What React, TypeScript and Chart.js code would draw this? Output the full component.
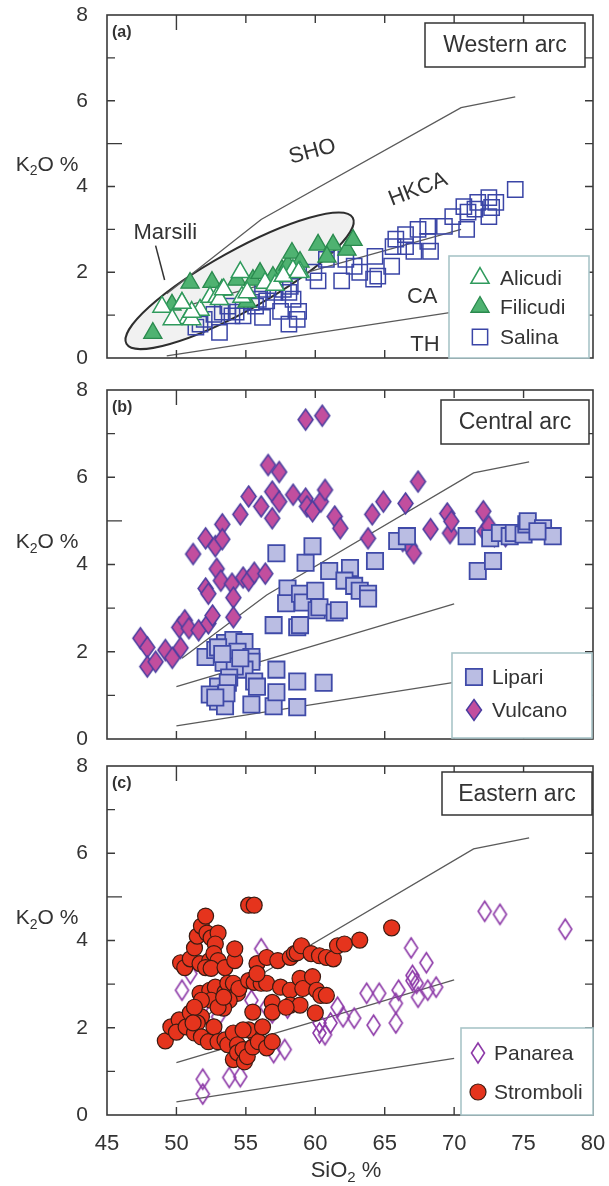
import React, { useEffect, useRef } from "react";
import { Chart, registerables } from "chart.js";
Chart.register(...registerables);

const FONT = '"Liberation Sans", Arial, Helvetica, sans-serif';
const TEXT = "#333333";
const LINE = "#5a5a5a";

// ---------- axes ----------
const X_MIN = 45, X_MAX = 80, Y_MIN = 0, Y_MAX = 8;
const X_TICK_LABELS = ["45", "50", "55", "60", "65", "70", "75", "80"];
const Y_TICK_LABELS = ["0", "2", "4", "6", "8"];
const X_INNER_TICKS = [50, 55, 60, 65, 70, 75];
const Y_INNER_TICKS = [1, 2, 3, 4, 5, 6, 7];

// ---------- classification boundaries ----------
const westThCaSiO2 = [49.3, 70.5];
const westThCaK2O = [0.05, 1.1];
const westCaHkcaSiO2 = [50.0, 70.5];
const westCaHkcaK2O = [1.15, 3.0];
const westHkcaShoSiO2 = [49.3, 56.1, 70.5, 74.4];
const westHkcaShoK2O = [1.5, 3.23, 5.84, 6.09];

const thCaSiO2 = [50.0, 70.0];
const thCaK2O = [0.3, 1.3];
const caHkcaSiO2 = [50.0, 70.0];
const caHkcaK2O = [1.2, 3.1];
const hkcaShoSiO2 = [50.4, 56.5, 71.4, 75.4];
const hkcaShoK2O = [1.85, 3.3, 6.1, 6.35];

// ---------- (a) Western arc ----------
const alicudiSiO2 = [48.96, 51.7, 50.83, 52.42, 52.92, 54.72, 56.38, 57.1, 58.39, 58.9, 49.7, 51.1, 51.1, 53.1, 55.1, 54.6, 57.7, 58.8, 53.4, 50.4];
const alicudiK2O = [1.19, 1.12, 0.93, 1.42, 1.42, 1.42, 1.75, 1.7, 2.05, 2.01, 0.9, 0.9, 1.07, 1.37, 1.53, 2.0, 1.91, 2.0, 1.6, 1.28];

const filicudiSiO2 = [48.3, 50.98, 52.56, 54.36, 55.51, 56.02, 57.6, 58.03, 58.32, 58.9, 60.2, 61.28, 60.84, 62.28, 62.72, 49.68, 53.28, 56.95, 50.4, 55.08];
const filicudiK2O = [0.58, 1.75, 1.77, 1.82, 1.82, 1.98, 2.05, 2.17, 2.45, 2.24, 2.64, 2.64, 2.36, 2.52, 2.75, 1.24, 1.59, 1.89, 1.28, 1.31];

const salinaSiO2 = [51.4, 52.0, 52.7, 53.1, 53.3, 53.7, 54.0, 54.8, 55.7, 56.2, 55.9, 56.5, 57.5, 58.1, 58.7, 58.8, 58.1, 58.2, 58.4, 59.9, 60.2, 60.8, 61.9, 62.8, 62.2, 63.2, 64.3, 64.2, 64.5, 65.5, 65.6, 65.8, 66.5, 66.5, 67.1, 67.4, 68.1, 68.1, 68.3, 69.3, 69.9, 70.7, 70.9, 71.0, 71.5, 71.7, 72.5, 72.7, 72.5, 73.0, 74.4, 57.1, 57.7, 56.2, 55.4, 54.3, 51.7];
const salinaK2O = [0.72, 0.9, 1.02, 0.6, 1.07, 1.21, 0.98, 0.98, 1.21, 0.95, 1.37, 1.33, 1.09, 0.79, 0.9, 1.09, 1.53, 1.67, 1.37, 2.0, 1.8, 2.3, 1.8, 2.14, 2.3, 2.0, 2.37, 1.84, 1.91, 2.14, 2.6, 2.77, 2.88, 2.6, 2.49, 3.0, 3.07, 2.72, 2.49, 3.07, 3.3, 3.53, 3.0, 3.4, 3.47, 3.63, 3.74, 3.51, 3.3, 3.63, 3.93, 1.53, 1.6, 1.6, 1.3, 1.07, 0.79];

// ---------- (b) Central arc ----------
const vulcanoSiO2 = [47.4, 47.9, 47.9, 48.5, 49.2, 49.7, 50.3, 50.2, 50.6, 50.9, 51.2, 51.6, 52.1, 52.3, 52.3, 52.6, 52.1, 52.8, 52.9, 53.3, 53.3, 53.2, 54.0, 54.1, 54.1, 54.6, 54.8, 55.2, 55.2, 55.6, 56.1, 56.4, 56.6, 56.9, 56.9, 57.4, 57.4, 58.4, 59.3, 59.3, 59.4, 59.8, 60.4, 60.5, 60.7, 61.4, 61.8, 63.8, 64.1, 64.9, 66.3, 66.5, 66.8, 67.1, 67.4, 68.3, 69.5, 69.7, 69.8, 72.1, 72.2, 72.5, 72.9, 73.7];
const vulcanoK2O = [2.31, 2.1, 1.66, 1.77, 2.04, 1.86, 2.09, 2.56, 2.72, 2.54, 4.24, 2.49, 3.45, 3.33, 2.65, 2.83, 4.6, 4.42, 3.9, 4.92, 4.58, 3.63, 3.56, 3.24, 2.79, 5.15, 3.7, 5.56, 3.63, 3.81, 5.33, 3.79, 6.28, 5.06, 5.67, 6.12, 5.44, 5.6, 7.32, 5.51, 5.33, 5.22, 5.44, 7.41, 5.71, 5.1, 4.83, 4.6, 5.15, 5.44, 4.54, 5.4, 4.42, 4.26, 5.9, 4.81, 5.17, 4.72, 4.99, 5.22, 4.76, 4.88, 4.65, 4.65];

const lipariSiO2 = [57.2, 59.3, 59.8, 61.0, 62.5, 64.3, 62.1, 62.8, 63.2, 63.8, 63.8, 58.0, 57.9, 58.9, 59.1, 60.0, 60.1, 60.3, 61.4, 61.7, 57.0, 58.7, 58.9, 52.1, 52.8, 53.5, 54.1, 54.9, 53.4, 54.4, 55.4, 55.4, 54.9, 54.2, 53.8, 53.0, 53.7, 52.4, 53.0, 53.5, 55.6, 55.8, 55.4, 57.0, 57.2, 57.2, 58.7, 58.7, 60.6, 70.9, 71.7, 72.8, 72.6, 73.3, 74.0, 74.3, 75.0, 75.2, 75.3, 76.4, 77.1, 76.0, 65.9, 66.6, 53.0, 53.3, 54.6, 53.6, 52.8];
const lipariK2O = [4.26, 4.04, 4.42, 3.85, 3.92, 4.08, 3.63, 3.51, 3.4, 3.33, 3.22, 3.45, 3.11, 3.33, 3.13, 3.4, 2.95, 3.02, 2.9, 2.95, 2.61, 2.56, 2.61, 1.88, 2.04, 2.2, 2.27, 2.22, 1.75, 2.0, 1.88, 1.77, 1.59, 1.66, 1.41, 1.2, 1.29, 1.02, 0.86, 0.75, 1.32, 1.2, 0.79, 0.75, 1.59, 1.07, 1.32, 0.73, 1.29, 4.65, 3.85, 4.08, 4.6, 4.72, 4.65, 4.72, 4.69, 4.92, 4.99, 4.83, 4.65, 4.76, 4.54, 4.65, 2.1, 1.95, 1.85, 1.05, 0.95];

// ---------- (c) Eastern arc ----------
const panareaSiO2 = [50.4, 51.0, 51.8, 51.9, 51.9, 53.8, 54.6, 52.8, 53.0, 55.4, 56.1, 56.5, 56.9, 57.0, 57.8, 58.0, 60.3, 60.3, 60.7, 61.1, 61.6, 62.0, 62.8, 63.7, 64.2, 64.6, 65.8, 65.8, 66.0, 66.9, 67.0, 67.0, 67.3, 67.4, 68.0, 68.1, 68.7, 72.2, 73.3, 78.0];
const panareaK2O = [2.86, 3.24, 2.45, 0.82, 0.48, 0.86, 0.88, 1.88, 2.25, 2.63, 3.81, 2.47, 2.34, 1.43, 1.5, 2.45, 2.11, 1.88, 1.84, 2.11, 2.47, 2.25, 2.22, 2.79, 2.06, 2.79, 2.56, 2.11, 2.86, 3.83, 3.2, 3.08, 3.02, 2.7, 3.49, 2.86, 2.93, 4.67, 4.6, 4.26];

const stromboliSiO2 = [49.2, 49.6, 50.2, 50.0, 50.7, 51.3, 51.0, 50.3, 50.6, 51.0, 51.3, 51.5, 51.8, 52.1, 52.2, 52.5, 53.0, 52.8, 51.7, 52.4, 52.7, 53.0, 52.1, 52.5, 51.7, 52.4, 52.8, 52.5, 53.5, 53.5, 53.7, 54.1, 54.2, 54.2, 54.4, 54.5, 53.8, 53.4, 51.8, 51.5, 51.8, 52.3, 52.7, 53.0, 53.5, 53.7, 54.1, 54.4, 54.1, 54.4, 54.8, 54.9, 55.1, 55.5, 55.7, 55.2, 54.8, 55.9, 56.2, 56.5, 56.9, 55.5, 55.2, 55.6, 56.1, 56.5, 55.8, 55.8, 56.5, 57.3, 55.2, 55.6, 57.5, 58.2, 58.2, 58.9, 58.9, 59.1, 59.8, 60.1, 60.4, 60.8, 60.0, 56.9, 56.9, 57.9, 58.2, 58.5, 58.7, 59.0, 59.7, 60.3, 60.8, 61.3, 61.6, 62.1, 63.2, 65.5, 51.8, 51.3, 51.2, 53.0, 53.4];
const stromboliK2O = [1.7, 2.02, 2.18, 1.9, 2.02, 1.88, 2.34, 3.49, 3.38, 3.58, 3.83, 4.1, 4.33, 4.56, 4.17, 4.06, 4.17, 3.92, 3.47, 3.54, 3.7, 3.54, 3.38, 3.36, 2.79, 2.86, 2.93, 2.63, 3.38, 2.81, 3.02, 3.02, 3.54, 3.81, 2.79, 2.9, 2.63, 2.45, 2.25, 2.11, 1.79, 1.68, 2.02, 1.68, 1.72, 1.61, 1.88, 1.61, 1.27, 1.43, 1.5, 1.22, 1.34, 1.56, 1.84, 1.95, 1.95, 1.68, 2.02, 1.54, 1.68, 2.36, 3.08, 3.04, 3.02, 3.02, 3.47, 3.24, 3.61, 3.54, 4.81, 4.81, 2.93, 2.86, 2.52, 2.52, 3.13, 2.9, 3.17, 2.86, 2.74, 2.74, 2.34, 2.58, 2.36, 2.47, 3.61, 3.7, 3.72, 3.88, 3.7, 3.65, 3.61, 3.58, 3.88, 3.92, 4.01, 4.29, 2.63, 2.47, 2.11, 2.47, 2.7];

// ---------- markers ----------
type Marker = { shape: "rect" | "triangle" | "circle" | "diamond"; r: number; w?: number; h?: number; fill: string; stroke: string; lw: number };

const M_ALICUDI: Marker = { shape: "triangle", r: 10.5, fill: "#ffffff", stroke: "#2f9a5c", lw: 1.5 };
const M_FILICUDI: Marker = { shape: "triangle", r: 10.5, fill: "#4fb271", stroke: "#2a8a4e", lw: 1.3 };
const M_SALINA: Marker = { shape: "rect", r: 10.8, fill: "rgba(0,0,0,0)", stroke: "#3a45a6", lw: 1.5 };
const M_LIPARI: Marker = { shape: "rect", r: 11.5, fill: "#babde3", stroke: "#3f4aa8", lw: 1.8 };
const M_VULCANO: Marker = { shape: "diamond", r: 9, w: 15, h: 21, fill: "#c24e9e", stroke: "#4a3d9f", lw: 1.5 };
const M_PANAREA: Marker = { shape: "diamond", r: 9, w: 13, h: 20, fill: "rgba(0,0,0,0)", stroke: "#8d3aa8", lw: 1.6 };
const M_STROMBOLI: Marker = { shape: "circle", r: 8, fill: "#e5341d", stroke: "#3b1b12", lw: 1.2 };

function diamondCanvas(m: Marker): HTMLCanvasElement {
  const c = document.createElement("canvas");
  const w = m.w || 14, h = m.h || 20;
  const pad = Math.ceil(m.lw) + 1;
  c.width = w + pad * 2;
  c.height = h + pad * 2;
  const g = c.getContext("2d")!;
  const cx = c.width / 2, cy = c.height / 2;
  g.beginPath();
  g.moveTo(cx, cy - h / 2);
  g.lineTo(cx + w / 2, cy);
  g.lineTo(cx, cy + h / 2);
  g.lineTo(cx - w / 2, cy);
  g.closePath();
  g.fillStyle = m.fill;
  g.fill();
  g.strokeStyle = m.stroke;
  g.lineWidth = m.lw;
  g.stroke();
  return c;
}

function drawMarker(ctx: CanvasRenderingContext2D, m: Marker, x: number, y: number) {
  ctx.save();
  ctx.lineWidth = m.lw;
  ctx.strokeStyle = m.stroke;
  ctx.fillStyle = m.fill;
  ctx.beginPath();
  if (m.shape === "rect") {
    const s = m.r * Math.SQRT1_2;
    ctx.rect(x - s, y - s, 2 * s, 2 * s);
  } else if (m.shape === "circle") {
    ctx.arc(x, y, m.r, 0, Math.PI * 2);
  } else if (m.shape === "triangle") {
    for (let k = 0; k < 3; k++) {
      const a = (k * 2 * Math.PI) / 3;
      const px = x + Math.sin(a) * m.r, py = y - Math.cos(a) * m.r;
      if (k === 0) ctx.moveTo(px, py); else ctx.lineTo(px, py);
    }
    ctx.closePath();
  } else {
    const w = m.w || 14, h = m.h || 20;
    ctx.moveTo(x, y - h / 2);
    ctx.lineTo(x + w / 2, y);
    ctx.lineTo(x, y + h / 2);
    ctx.lineTo(x - w / 2, y);
    ctx.closePath();
  }
  ctx.fill();
  ctx.stroke();
  ctx.restore();
}

function pointSet(label: string, xs: number[], ys: number[], m: Marker, order: number) {
  return {
    label,
    data: xs.map((x, i) => ({ x, y: ys[i] })),
    pointStyle: m.shape === "diamond" ? diamondCanvas(m) : m.shape,
    pointRadius: m.r,
    pointBackgroundColor: m.fill,
    pointBorderColor: m.stroke,
    pointBorderWidth: m.lw,
    showLine: false,
    order,
  };
}

function lineSet(xs: number[], ys: number[]) {
  return {
    label: "",
    data: xs.map((x, i) => ({ x, y: ys[i] })),
    showLine: true,
    pointRadius: 0,
    borderColor: LINE,
    borderWidth: 1.3,
    fill: false,
    tension: 0,
    order: 20,
  };
}

type Seg = { t: string; sub?: boolean };
function drawRich(ctx: CanvasRenderingContext2D, parts: Seg[], cx: number, cy: number, size: number) {
  const subSize = Math.round(size * 0.66);
  let total = 0;
  const widths = parts.map((p) => {
    ctx.font = `${p.sub ? subSize : size}px ${FONT}`;
    const w = ctx.measureText(p.t).width;
    total += w;
    return w;
  });
  let x = cx - total / 2;
  ctx.textAlign = "left";
  ctx.textBaseline = "middle";
  ctx.fillStyle = TEXT;
  parts.forEach((p, i) => {
    ctx.font = `${p.sub ? subSize : size}px ${FONT}`;
    ctx.fillText(p.t, x, p.sub ? cy + size * 0.3 : cy);
    x += widths[i];
  });
}

type LegendRow = { label: string; marker: Marker; y: number };
type ZoneLabel = { text: string; x: number; y: number; rot: number };
type PanelCfg = {
  key: string;
  top: number;
  height: number;
  chartTop: number;
  chartBottom: number;
  tag: string;
  title: string;
  titleBox: [number, number, number, number];
  legendBox: [number, number, number, number];
  legendRows: LegendRow[];
  markerX: number;
  textX: number;
  showX: boolean;
  datasets: any[];
  zones?: ZoneLabel[];
  marsili?: { from: [number, number]; to: [number, number]; halfWidth: number; label: [number, number]; pointer: [number, number, number, number] };
};

const CHART_LEFT = 107;
const CHART_RIGHT = 593;

function decor(p: PanelCfg) {
  return {
    id: "decor_" + p.key,
    beforeDatasetsDraw(chart: any) {
      if (!p.marsili) return;
      const { ctx, scales } = chart;
      const xs = scales.x, ys = scales.y;
      const ax = xs.getPixelForValue(p.marsili.from[0]), ay = ys.getPixelForValue(p.marsili.from[1]);
      const bx = xs.getPixelForValue(p.marsili.to[0]), by = ys.getPixelForValue(p.marsili.to[1]);
      const cx = (ax + bx) / 2, cy = (ay + by) / 2;
      const semi = Math.hypot(bx - ax, by - ay) / 2;
      const ang = Math.atan2(by - ay, bx - ax);
      ctx.save();
      ctx.beginPath();
      ctx.ellipse(cx, cy, semi, p.marsili.halfWidth, ang, 0, Math.PI * 2);
      ctx.fillStyle = "#f1f1f1";
      ctx.fill();
      ctx.lineWidth = 2;
      ctx.strokeStyle = "#2e2e2e";
      ctx.stroke();
      ctx.restore();
    },
    afterDatasetsDraw(chart: any) {
      const { ctx, chartArea: a, scales } = chart;
      const xs = scales.x, ys = scales.y;
      ctx.save();

      (p.zones || []).forEach((z) => {
        ctx.save();
        ctx.translate(xs.getPixelForValue(z.x), ys.getPixelForValue(z.y));
        ctx.rotate((z.rot * Math.PI) / 180);
        ctx.font = `22px ${FONT}`;
        ctx.fillStyle = TEXT;
        ctx.textAlign = "center";
        ctx.textBaseline = "middle";
        ctx.fillText(z.text, 0, 0);
        ctx.restore();
      });

      if (p.marsili) {
        const m = p.marsili;
        ctx.beginPath();
        ctx.moveTo(xs.getPixelForValue(m.pointer[0]), ys.getPixelForValue(m.pointer[1]));
        ctx.lineTo(xs.getPixelForValue(m.pointer[2]), ys.getPixelForValue(m.pointer[3]));
        ctx.strokeStyle = "#333";
        ctx.lineWidth = 1.5;
        ctx.stroke();
        ctx.font = `22px ${FONT}`;
        ctx.fillStyle = TEXT;
        ctx.textAlign = "center";
        ctx.textBaseline = "middle";
        ctx.fillText("Marsili", xs.getPixelForValue(m.label[0]), ys.getPixelForValue(m.label[1]));
      }

      ctx.strokeStyle = "#3a3a3a";
      ctx.lineWidth = 1.6;
      ctx.strokeRect(a.left, a.top, a.right - a.left, a.bottom - a.top);

      ctx.lineWidth = 1.4;
      ctx.beginPath();
      Y_INNER_TICKS.forEach((v) => {
        const py = ys.getPixelForValue(v);
        const len = v === 5 ? 15 : 8;
        ctx.moveTo(a.left, py); ctx.lineTo(a.left + len, py);
        ctx.moveTo(a.right, py); ctx.lineTo(a.right - 8, py);
      });
      X_INNER_TICKS.forEach((v) => {
        const px = xs.getPixelForValue(v);
        ctx.moveTo(px, a.bottom); ctx.lineTo(px, a.bottom - 8);
        ctx.moveTo(px, a.top); ctx.lineTo(px, a.top + (v === 50 ? 15 : 8));
      });
      ctx.stroke();

      const [tx1, ty1, tx2, ty2] = p.titleBox;
      ctx.fillStyle = "#ffffff";
      ctx.fillRect(tx1, ty1, tx2 - tx1, ty2 - ty1);
      ctx.strokeStyle = "#333";
      ctx.lineWidth = 1.5;
      ctx.strokeRect(tx1, ty1, tx2 - tx1, ty2 - ty1);
      ctx.font = `23px ${FONT}`;
      ctx.fillStyle = TEXT;
      ctx.textAlign = "center";
      ctx.textBaseline = "middle";
      ctx.fillText(p.title, (tx1 + tx2) / 2, (ty1 + ty2) / 2 + 1);

      const [lx1, ly1, lx2, ly2] = p.legendBox;
      ctx.fillStyle = "#ffffff";
      ctx.fillRect(lx1, ly1, lx2 - lx1, ly2 - ly1);
      ctx.strokeStyle = "#a9c5c8";
      ctx.lineWidth = 1.6;
      ctx.strokeRect(lx1, ly1, lx2 - lx1, ly2 - ly1);
      p.legendRows.forEach((row) => {
        drawMarker(ctx, row.marker, p.markerX, row.y);
        ctx.font = `21px ${FONT}`;
        ctx.fillStyle = TEXT;
        ctx.textAlign = "left";
        ctx.textBaseline = "middle";
        ctx.fillText(row.label, p.textX, row.y + 1);
      });

      ctx.font = `bold 16px ${FONT}`;
      ctx.fillStyle = TEXT;
      ctx.textAlign = "left";
      ctx.textBaseline = "middle";
      ctx.fillText(p.tag, a.left + 5, a.top + 18);

      drawRich(ctx, [{ t: "K" }, { t: "2", sub: true }, { t: "O %" }], 47, ys.getPixelForValue(4.5), 21);
      if (p.showX) {
        drawRich(ctx, [{ t: "SiO" }, { t: "2", sub: true }, { t: " %" }], 346, a.bottom + 56, 22);
      }
      ctx.restore();
    },
  };
}

const PANELS: PanelCfg[] = [
  {
    key: "a",
    top: 0,
    height: 375,
    chartTop: 15,
    chartBottom: 358,
    tag: "(a)",
    title: "Western arc",
    titleBox: [425, 23, 585, 67],
    legendBox: [449, 256, 589, 358],
    legendRows: [
      { label: "Alicudi", marker: M_ALICUDI, y: 278 },
      { label: "Filicudi", marker: M_FILICUDI, y: 307 },
      { label: "Salina", marker: M_SALINA, y: 337 },
    ],
    markerX: 480,
    textX: 500,
    showX: false,
    datasets: [
      pointSet("Alicudi", alicudiSiO2, alicudiK2O, M_ALICUDI, 1),
      pointSet("Filicudi", filicudiSiO2, filicudiK2O, M_FILICUDI, 2),
      pointSet("Salina", salinaSiO2, salinaK2O, M_SALINA, 3),
      lineSet(westThCaSiO2, westThCaK2O),
      lineSet(westCaHkcaSiO2, westCaHkcaK2O),
      lineSet(westHkcaShoSiO2, westHkcaShoK2O),
    ],
    zones: [
      { text: "SHO", x: 59.8, y: 4.81, rot: -15 },
      { text: "HKCA", x: 67.4, y: 3.93, rot: -21 },
      { text: "CA", x: 67.7, y: 1.42, rot: 0 },
      { text: "TH", x: 67.9, y: 0.3, rot: 0 },
    ],
    marsili: { from: [46.4, 0.33], to: [62.7, 3.27], halfWidth: 30, label: [49.2, 2.91], pointer: [48.5, 2.62, 49.15, 1.82] },
  },
  {
    key: "b",
    top: 370,
    height: 385,
    chartTop: 20,
    chartBottom: 369,
    tag: "(b)",
    title: "Central arc",
    titleBox: [441, 30, 589, 74],
    legendBox: [452, 283, 592, 368],
    legendRows: [
      { label: "Lipari", marker: M_LIPARI, y: 307 },
      { label: "Vulcano", marker: M_VULCANO, y: 340 },
    ],
    markerX: 474,
    textX: 492,
    showX: false,
    datasets: [
      pointSet("Lipari", lipariSiO2, lipariK2O, M_LIPARI, 1),
      pointSet("Vulcano", vulcanoSiO2, vulcanoK2O, M_VULCANO, 2),
      lineSet(thCaSiO2, thCaK2O),
      lineSet(caHkcaSiO2, caHkcaK2O),
      lineSet(hkcaShoSiO2, hkcaShoK2O),
    ],
  },
  {
    key: "c",
    top: 746,
    height: 440,
    chartTop: 20,
    chartBottom: 369,
    tag: "(c)",
    title: "Eastern arc",
    titleBox: [442, 26, 592, 69],
    legendBox: [461, 282, 593, 369],
    legendRows: [
      { label: "Panarea", marker: M_PANAREA, y: 307 },
      { label: "Stromboli", marker: M_STROMBOLI, y: 346 },
    ],
    markerX: 478,
    textX: 494,
    showX: true,
    datasets: [
      pointSet("Stromboli", stromboliSiO2, stromboliK2O, M_STROMBOLI, 1),
      pointSet("Panarea", panareaSiO2, panareaK2O, M_PANAREA, 2),
      lineSet(thCaSiO2, thCaK2O),
      lineSet(caHkcaSiO2, caHkcaK2O),
      lineSet(hkcaShoSiO2, hkcaShoK2O),
    ],
  },
];

function Panel({ cfg }: { cfg: PanelCfg }) {
  const ref = useRef<HTMLCanvasElement>(null);
  useEffect(() => {
    const chart = new Chart(ref.current as HTMLCanvasElement, {
      type: "scatter",
      data: { datasets: cfg.datasets as any },
      options: {
        responsive: false,
        animation: false,
        devicePixelRatio: 1,
        events: [],
        layout: { padding: { top: cfg.chartTop, right: 609 - CHART_RIGHT, left: 0, bottom: 0 } },
        plugins: { legend: { display: false }, tooltip: { enabled: false } },
        scales: {
          x: {
            type: "linear",
            position: "bottom",
            min: X_MIN,
            max: X_MAX,
            afterFit: (s: any) => {
              s.height = cfg.height - cfg.chartBottom;
              s.paddingLeft = 0;
              s.paddingRight = 0;
              s.paddingTop = 0;
              s.paddingBottom = 0;
            },
            grid: { display: false, drawTicks: false },
            border: { display: false },
            ticks: {
              display: cfg.showX,
              stepSize: 5,
              padding: 16,
              color: TEXT,
              font: { family: FONT, size: 22 },
              callback: (v: any) => (X_TICK_LABELS.includes(String(v)) ? String(v) : ""),
            },
          },
          y: {
            type: "linear",
            min: Y_MIN,
            max: Y_MAX,
            afterFit: (s: any) => {
              s.width = CHART_LEFT;
              s.paddingLeft = 0;
              s.paddingRight = 0;
              s.paddingTop = 0;
              s.paddingBottom = 0;
            },
            grid: { display: false, drawTicks: false },
            border: { display: false },
            ticks: {
              stepSize: 1,
              padding: 19,
              color: TEXT,
              font: { family: FONT, size: 21 },
              callback: (v: any) => (Y_TICK_LABELS.includes(String(v)) ? String(v) : ""),
            },
          },
        },
      } as any,
      plugins: [decor(cfg)],
    });
    return () => chart.destroy();
  }, []);
  return (
    <canvas
      ref={ref}
      width={609}
      height={cfg.height}
      style={{ position: "absolute", left: 0, top: cfg.top, width: 609, height: cfg.height }}
    />
  );
}

export default function App() {
  return (
    <div style={{ position: "absolute", left: 0, top: 0, width: 609, height: 1186, background: "#ffffff", overflow: "hidden" }}>
      {PANELS.map((p) => (
        <Panel key={p.key} cfg={p} />
      ))}
    </div>
  );
}
